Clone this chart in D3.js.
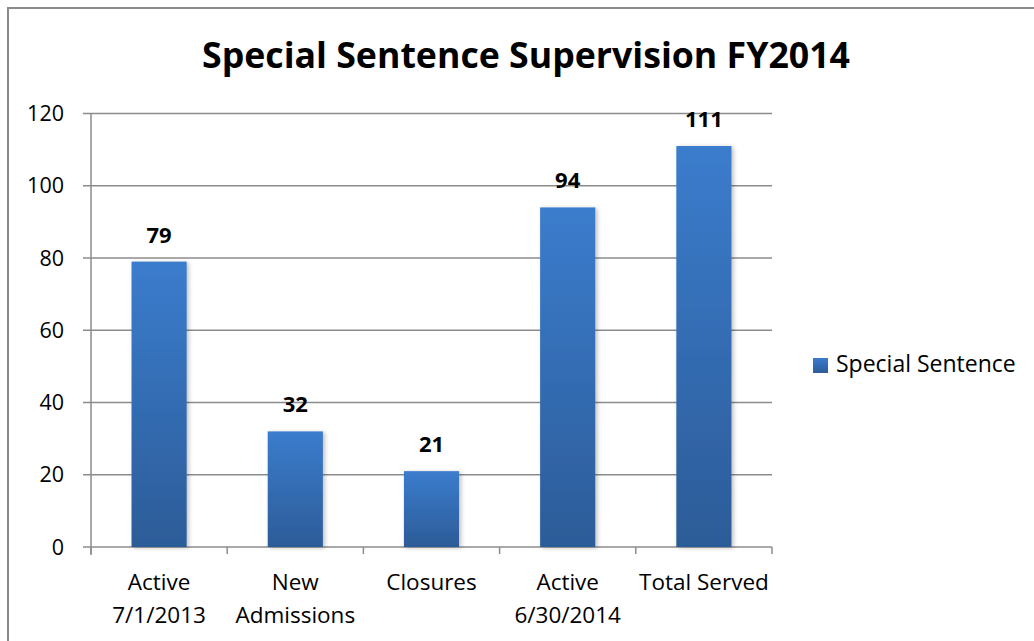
<!DOCTYPE html>
<html><head><meta charset="utf-8">
<script src="https://cdnjs.cloudflare.com/ajax/libs/d3/7.8.5/d3.min.js"></script>
<style>html,body{margin:0;padding:0;background:#fff;}svg{display:block;}</style>
</head><body>
<script>
const categories = [["Active","7/1/2013"],["New","Admissions"],["Closures"],["Active","6/30/2014"],["Total Served"]];
const values = [79, 32, 21, 94, 111];
const yTicks = [0, 20, 40, 60, 80, 100, 120];
const seriesName = "Special Sentence";
const title = "Special Sentence Supervision FY2014";

const W = 1034, H = 641;
const font = "'Open Sans', sans-serif";
const svg = d3.select("body").append("svg").attr("width", W).attr("height", H);

const defs = svg.append("defs");
const grad = defs.append("linearGradient").attr("id","bg").attr("x1",0).attr("y1",0).attr("x2",0).attr("y2",1);
grad.append("stop").attr("offset","0%").attr("stop-color","#3b7ccd");
grad.append("stop").attr("offset","100%").attr("stop-color","#2c5c98");
const lg = defs.append("linearGradient").attr("id","lg").attr("x1",0).attr("y1",0).attr("x2",0).attr("y2",1);
lg.append("stop").attr("offset","0%").attr("stop-color","#3b7ccd");
lg.append("stop").attr("offset","100%").attr("stop-color","#2c5c98");
const f = defs.append("filter").attr("id","sh").attr("x","-20%").attr("y","-5%").attr("width","140%").attr("height","115%");
f.append("feDropShadow").attr("dx",2).attr("dy",1).attr("stdDeviation",2).attr("flood-color","#000").attr("flood-opacity",0.25);

// border
svg.append("rect").attr("x",8).attr("y",8).attr("width",W+20).attr("height",H+20)
  .attr("fill","none").attr("stroke","#8a8a8a").attr("stroke-width",2);

const x = d3.scaleBand().domain(d3.range(values.length)).range([91, 772]).paddingInner(0.595).paddingOuter(0.2975);
const y = d3.scaleLinear().domain([0,120]).range([547, 113.5]);

// gridlines
svg.append("g").selectAll("line").data(yTicks).join("line")
  .attr("x1", 83).attr("x2", 772).attr("y1", d=>y(d)).attr("y2", d=>y(d))
  .attr("stroke","#8c8c8c").attr("stroke-width",1.5);

// y axis line
svg.append("line").attr("x1",91).attr("x2",91).attr("y1",y(120)).attr("y2",y(0)+8).attr("stroke","#8c8c8c").attr("stroke-width",1.5);
// x category ticks
const step = x.step();
const bounds = d3.range(values.length+1).map(i => x.range()[0] + i*step);
svg.append("g").selectAll("line").data(bounds).join("line")
  .attr("x1", d=>d).attr("x2", d=>d).attr("y1", y(0)).attr("y2", y(0)+7)
  .attr("stroke","#8c8c8c").attr("stroke-width",1.5);

// y tick labels
svg.append("g").selectAll("text").data(yTicks).join("text")
  .attr("x", 64).attr("y", d=>y(d)+7.5).attr("text-anchor","end")
  .attr("font-family", font).attr("font-size", 21.5).attr("fill","#000").text(d=>d);

// bars
svg.append("g").selectAll("rect").data(values).join("rect")
  .attr("x", (d,i)=>x(i)).attr("width", x.bandwidth())
  .attr("y", d=>y(d)).attr("height", d=>y(0)-y(d))
  .attr("fill","url(#bg)").attr("filter","url(#sh)");

// data labels
svg.append("g").selectAll("text").data(values).join("text")
  .attr("x", (d,i)=>x(i)+x.bandwidth()/2).attr("y", d=>y(d)-19)
  .attr("text-anchor","middle").attr("font-family", font).attr("font-weight","bold")
  .attr("font-size", 22).attr("fill","#000").text(d=>d);

// category labels
const cl = svg.append("g").selectAll("text").data(categories).join("text")
  .attr("text-anchor","middle").attr("font-family", font).attr("font-size", 22.5).attr("fill","#000");
cl.selectAll("tspan").data((d,i)=>d.map(s=>({s,i}))).join("tspan")
  .attr("x", d=>x(d.i)+x.bandwidth()/2)
  .attr("y", (d,j)=>590 + j*33)
  .text(d=>d.s);

// title
svg.append("text").attr("x", 526).attr("y", 68).attr("text-anchor","middle")
  .attr("font-family", font).attr("font-weight","bold").attr("font-size", 36)
  .attr("textLength", 648).attr("lengthAdjust","spacingAndGlyphs")
  .attr("fill","#000").text(title);

// legend
svg.append("rect").attr("x",813).attr("y",358).attr("width",15).attr("height",15).attr("fill","url(#lg)");
svg.append("text").attr("x",836).attr("y",372).attr("font-family", font).attr("font-size",23).attr("fill","#000").text(seriesName);
</script>
</body></html>
